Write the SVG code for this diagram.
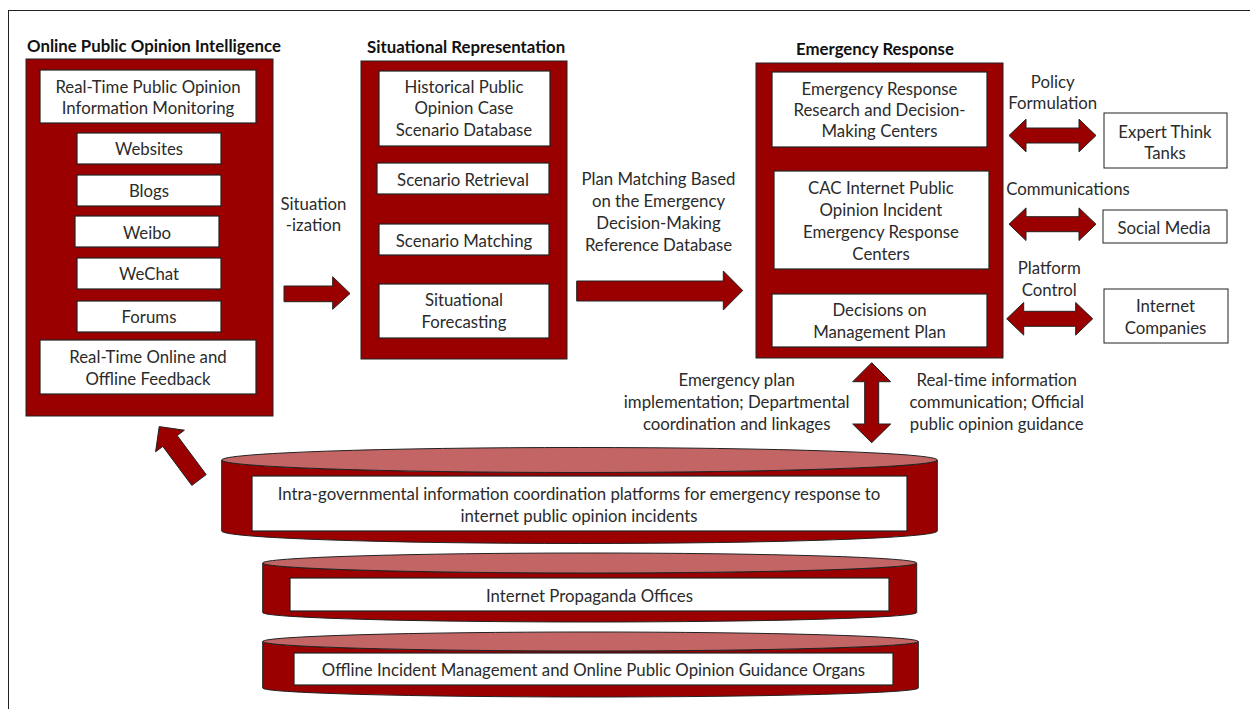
<svg xmlns="http://www.w3.org/2000/svg" width="1250" height="709" viewBox="0 0 1250 709">
  <style>
    text { font-family: Lato, "Open Sans", "Liberation Sans", sans-serif; font-size: 16.8px; fill: #2b2b2b; text-anchor: middle; dominant-baseline: central; }
    .title { font-weight: bold; fill: #111; text-anchor: start; }
    .container { fill: #9a0000; stroke: #222; stroke-width: 1; }
    .box { fill: #ffffff; stroke: #222; stroke-width: 1.2; }
    .plain { fill: #ffffff; stroke: #222; stroke-width: 1; }
    .arrow { fill: #9a0000; stroke: #222; stroke-width: 1; stroke-linejoin: miter; }
    .cyl-side { fill: #9a0000; stroke: #222; stroke-width: 1; }
    .cyl-top { fill: #c46565; stroke: #222; stroke-width: 1; }
  </style>

  <!-- frame -->
  <rect x="8.5" y="10.5" width="1262" height="720" fill="#ffffff" stroke="#222" stroke-width="1"/>

  <!-- Online Public Opinion Intelligence -->
  <g id="intelligence">
    <text class="title" x="27" y="45">Online Public Opinion Intelligence</text>
    <rect class="container" x="26" y="59" width="247" height="357"/>
    <rect class="box" x="40" y="70" width="216" height="53"/>
    <text x="148" y="86">Real-Time Public Opinion</text>
    <text x="148" y="107.5">Information Monitoring</text>
    <rect class="box" x="77" y="133" width="144" height="31"/>
    <text x="149" y="148.5">Websites</text>
    <rect class="box" x="77" y="175" width="144" height="31"/>
    <text x="149" y="190.5">Blogs</text>
    <rect class="box" x="75" y="216" width="144" height="31"/>
    <text x="147" y="232">Weibo</text>
    <rect class="box" x="77" y="258" width="144" height="31"/>
    <text x="149" y="273.5">WeChat</text>
    <rect class="box" x="77" y="301" width="144" height="31"/>
    <text x="149" y="316">Forums</text>
    <rect class="box" x="40" y="340" width="216" height="54"/>
    <text x="148" y="356.5">Real-Time Online and</text>
    <text x="148" y="378">Offline Feedback</text>
  </g>

  <!-- Situational Representation -->
  <g id="situational">
    <text class="title" x="367" y="46.5">Situational Representation</text>
    <rect class="container" x="361" y="61" width="206" height="298"/>
    <rect class="box" x="379" y="71" width="171" height="75"/>
    <text x="464" y="86">Historical Public</text>
    <text x="464" y="107.5">Opinion Case</text>
    <text x="464" y="129">Scenario Database</text>
    <rect class="box" x="377" y="163" width="172" height="31"/>
    <text x="463" y="179.5">Scenario Retrieval</text>
    <rect class="box" x="379" y="224" width="170" height="31"/>
    <text x="464" y="240">Scenario Matching</text>
    <rect class="box" x="379" y="284" width="170" height="54"/>
    <text x="464" y="299.5">Situational</text>
    <text x="464" y="321">Forecasting</text>
  </g>

  <!-- Emergency Response -->
  <g id="emergency">
    <text class="title" x="796" y="48">Emergency Response</text>
    <rect class="container" x="756" y="63" width="247" height="295"/>
    <rect class="box" x="772" y="72" width="215" height="75"/>
    <text x="879.5" y="88">Emergency Response</text>
    <text x="879.5" y="109">Research and Decision-</text>
    <text x="879.5" y="130.5">Making Centers</text>
    <rect class="box" x="774" y="171" width="215" height="98"/>
    <text x="881" y="187.5">CAC Internet Public</text>
    <text x="881" y="209.5">Opinion Incident</text>
    <text x="881" y="231.5">Emergency Response</text>
    <text x="881" y="253">Centers</text>
    <rect class="box" x="772" y="294" width="215" height="53"/>
    <text x="879.5" y="309.5">Decisions on</text>
    <text x="879.5" y="331">Management Plan</text>
  </g>

  <!-- External parties -->
  <g id="expert-think-tanks">
    <rect class="plain" x="1104" y="113" width="123" height="55"/>
    <text x="1165" y="131">Expert Think</text>
    <text x="1165" y="152.5">Tanks</text>
  </g>
  <g id="social-media">
    <rect class="plain" x="1103" y="210" width="124" height="33"/>
    <text x="1164" y="227">Social Media</text>
  </g>
  <g id="internet-companies">
    <rect class="plain" x="1104" y="289" width="124" height="54"/>
    <text x="1165.5" y="305.5">Internet</text>
    <text x="1165.5" y="327">Companies</text>
  </g>

  <!-- Coordination platforms (cylinders) -->
  <g id="coordination-platforms">
    <path class="cyl-side" d="M221.7 460 L221.7 531 A357.8 12.5 0 0 0 937.3 531 L937.3 460 A357.8 12.5 0 0 1 221.7 460 Z"/>
    <ellipse class="cyl-top" cx="579.5" cy="460" rx="357.8" ry="12.5"/>
    <rect class="box" x="252" y="476" width="655" height="55"/>
    <text x="579" y="493.5">Intra-governmental information coordination platforms for emergency response to</text>
    <text x="579" y="515">internet public opinion incidents</text>
  </g>
  <g id="propaganda-offices">
    <path class="cyl-side" d="M262.7 563 L262.7 612.5 A327 9.5 0 0 0 916.7 612.5 L916.7 563 A327 10 0 0 1 262.7 563 Z"/>
    <ellipse class="cyl-top" cx="589.7" cy="563" rx="327" ry="10"/>
    <rect class="box" x="290" y="578" width="599" height="33"/>
    <text x="589.5" y="595">Internet Propaganda Offices</text>
  </g>
  <g id="guidance-organs">
    <path class="cyl-side" d="M262.7 641.5 L262.7 688 A327.8 9 0 0 0 918.3 688 L918.3 641.5 A327.8 9.5 0 0 1 262.7 641.5 Z"/>
    <ellipse class="cyl-top" cx="590.5" cy="641.5" rx="327.8" ry="9.5"/>
    <rect class="box" x="294" y="653" width="599" height="32"/>
    <text x="593.5" y="669.5">Offline Incident Management and Online Public Opinion Guidance Organs</text>
  </g>

  <!-- Connectors -->
  <g id="connectors">
    <!-- situationization -->
    <path class="arrow" d="M284 286 L332.7 286 L332.7 276.7 L350 293.5 L332.7 309.3 L332.7 301.7 L284 301.7 Z"/>
    <!-- plan matching -->
    <path class="arrow" d="M576.7 281 L723.3 281 L723.3 271 L742.7 290.5 L723.3 310 L723.3 301 L576.7 301 Z"/>
    <!-- policy formulation -->
    <path class="arrow" d="M1009 135.5 L1026 119.2 L1026 128 L1079 128 L1079 119.2 L1096 135.5 L1079 151.8 L1079 143 L1026 143 L1026 151.8 Z"/>
    <!-- communications -->
    <path class="arrow" d="M1009 224.2 L1026 207.9 L1026 216.7 L1079 216.7 L1079 207.9 L1096 224.2 L1079 240.5 L1079 231.7 L1026 231.7 L1026 240.5 Z"/>
    <!-- platform control -->
    <path class="arrow" d="M1006.7 318.8 L1023.7 302.5 L1023.7 311.3 L1075.7 311.3 L1075.7 302.5 L1092.7 318.8 L1075.7 335.1 L1075.7 326.3 L1023.7 326.3 L1023.7 335.1 Z"/>
    <!-- emergency response <-> coordination platforms -->
    <path class="arrow" d="M871.7 362.7 L890.7 381.7 L878.7 381.7 L878.7 424 L890.7 424 L871.7 442.7 L852.7 424 L864.7 424 L864.7 381.7 L852.7 381.7 Z"/>
    <!-- feedback to intelligence -->
    <path class="arrow" d="M206.2 474.6 L177.2 435.6 L184.4 430.2 L159.2 426.6 L155.6 451.8 L162.8 446.4 L191.8 485.4 Z"/>
  </g>

  <!-- Connector labels -->
  <g id="labels">
    <text x="313.5" y="203.5">Situation</text>
    <text x="313.5" y="224.5">-ization</text>
    <text x="658.5" y="178.5">Plan Matching Based</text>
    <text x="658.5" y="200.5">on the Emergency</text>
    <text x="658.5" y="222.5">Decision-Making</text>
    <text x="658.5" y="244">Reference Database</text>
    <text x="1052.7" y="81">Policy</text>
    <text x="1052.7" y="102.5">Formulation</text>
    <text x="1068" y="188">Communications</text>
    <text x="1049.3" y="267.5">Platform</text>
    <text x="1049.3" y="289">Control</text>
    <text x="736.7" y="379.5">Emergency plan</text>
    <text x="736.7" y="401.5">implementation; Departmental</text>
    <text x="736.7" y="423">coordination and linkages</text>
    <text x="996.7" y="379.5">Real-time information</text>
    <text x="996.7" y="401.5">communication; Official</text>
    <text x="996.7" y="423">public opinion guidance</text>
  </g>
</svg>
